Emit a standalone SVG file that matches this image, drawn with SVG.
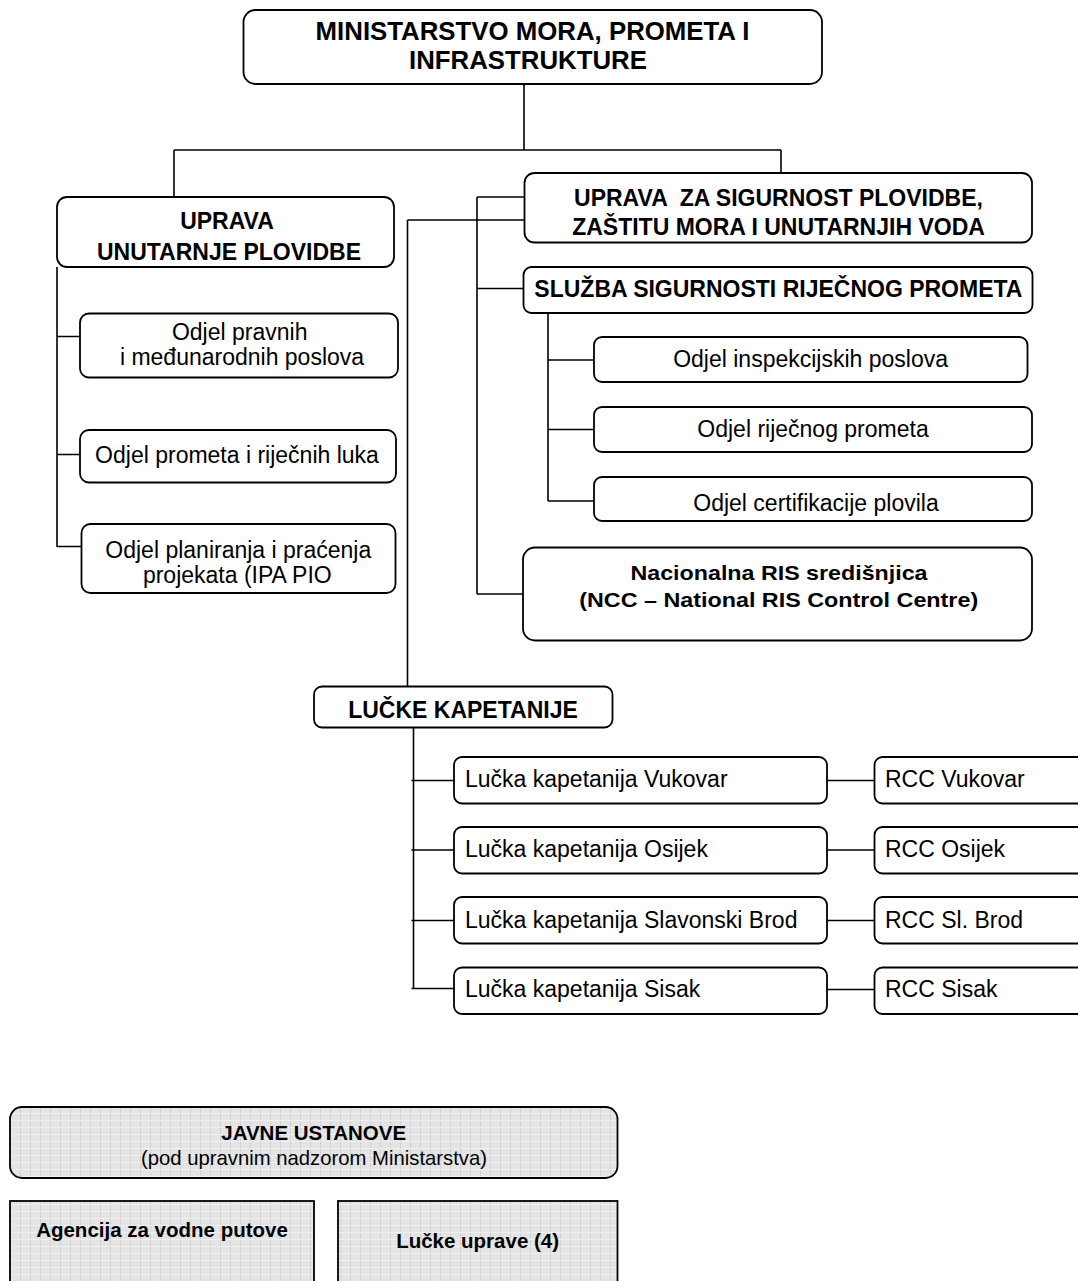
<svg xmlns="http://www.w3.org/2000/svg" width="1078" height="1281" viewBox="0 0 1078 1281">
<style>
.box{fill:#ffffff;stroke:#000000;stroke-width:1.8}
.gbox{fill:url(#grid);stroke:#000000;stroke-width:1.8}
.ln{fill:none;stroke:#000000;stroke-width:1.6}
text{font-family:"Liberation Sans",Arial,sans-serif;fill:#000000}
.b{font-weight:bold;font-size:23px;text-anchor:middle}
.r{font-size:23px;text-anchor:middle}
.rl{font-size:23px;text-anchor:start}
.t{font-weight:bold;font-size:25.8px;text-anchor:middle}
.sb{font-weight:bold;font-size:20.5px;text-anchor:middle}
.sr{font-size:20.3px;text-anchor:middle}
</style>
<defs>
<pattern id="grid" patternUnits="userSpaceOnUse" width="10" height="7">
<rect x="0" y="0" width="10" height="7" fill="#e4e4e4"/>
<rect x="0" y="0" width="1" height="7" fill="#d2d2d2"/>
<rect x="0" y="0" width="10" height="1" fill="#efefef"/>
</pattern>
</defs>
<rect x="0" y="0" width="1078" height="1281" fill="#ffffff"/>

<g id="connectors">
<path class="ln" d="M524 84 V150 M174 150 H781 M174 150 V197 M781 150 V173"/>
<path class="ln" d="M57 267 V547 M57 336.5 H80 M57 454.5 H80 M57 546.5 H81.5"/>
<path class="ln" d="M477 197 V594 M477 197 H524.5 M477 288.5 H523.5 M477 594 H523"/>
<path class="ln" d="M407.5 220 V686.5 M407.5 220 H524.5"/>
<path class="ln" d="M548 313 V501 M548 360 H594 M548 429.5 H594 M548 501 H594"/>
<path class="ln" d="M413.5 727 V988.5 M411.5 780.5 H454 M411.5 850 H454 M411.5 920.5 H454 M411.5 988.5 H454"/>
<path class="ln" d="M827 780.5 H874.5 M827 850 H874.5 M827 920.5 H874.5 M827 989.5 H874.5"/>
</g>

<g id="ministarstvo">
<rect class="box" x="243.5" y="10" width="578.5" height="74" rx="12"/>
<text class="t" x="532.5" y="39.5">MINISTARSTVO MORA, PROMETA I</text>
<text class="t" x="528" y="69">INFRASTRUKTURE</text>
</g>

<g id="uprava-unutarnje">
<rect class="box" x="57" y="197" width="337" height="70" rx="10"/>
<text class="b" x="227" y="228.5">UPRAVA</text>
<text class="b" x="229" y="260">UNUTARNJE PLOVIDBE</text>
</g>

<g id="odjel-pravnih">
<rect class="box" x="80" y="313.5" width="318" height="64" rx="9"/>
<text class="r" x="239.7" y="339.5">Odjel pravnih</text>
<text class="r" x="242" y="365">i međunarodnih poslova</text>
</g>

<g id="odjel-prometa-luka">
<rect class="box" x="80" y="430" width="316" height="52.5" rx="9"/>
<text class="r" x="237" y="462.7">Odjel prometa i riječnih luka</text>
</g>

<g id="odjel-planiranja">
<rect class="box" x="81.5" y="524" width="314" height="69" rx="9"/>
<text class="r" x="238.3" y="558.3">Odjel planiranja i praćenja</text>
<text class="r" x="237.3" y="583.3">projekata (IPA PIO</text>
</g>

<g id="uprava-sigurnost">
<rect class="box" x="524.5" y="173" width="507.5" height="69.5" rx="10"/>
<text class="b" x="778.5" y="206" xml:space="preserve">UPRAVA  ZA SIGURNOST PLOVIDBE,</text>
<text class="b" x="778.5" y="235">ZAŠTITU MORA I UNUTARNJIH VODA</text>
</g>

<g id="sluzba">
<rect class="box" x="523.5" y="267" width="509" height="46" rx="8"/>
<text class="b" x="778.4" y="296.5">SLUŽBA SIGURNOSTI RIJEČNOG PROMETA</text>
</g>

<g id="odjel-inspekcijskih">
<rect class="box" x="594" y="337" width="433.5" height="45" rx="8"/>
<text class="r" x="810.6" y="367">Odjel inspekcijskih poslova</text>
</g>

<g id="odjel-rijecnog">
<rect class="box" x="594" y="407" width="438" height="45" rx="8"/>
<text class="r" x="813" y="437">Odjel riječnog prometa</text>
</g>

<g id="odjel-certifikacije">
<rect class="box" x="594" y="477" width="438" height="44" rx="8"/>
<text class="r" x="816" y="510.5">Odjel certifikacije plovila</text>
</g>

<g id="ncc">
<rect class="box" x="523" y="547.5" width="509" height="93" rx="12"/>
<text class="b" x="779" y="579.5" style="font-size:21px" textLength="297" lengthAdjust="spacingAndGlyphs">Nacionalna RIS središnjica</text>
<text class="b" x="778.7" y="606.5" style="font-size:21px" textLength="399" lengthAdjust="spacingAndGlyphs">(NCC – National RIS Control Centre)</text>
</g>

<g id="lucke-kapetanije">
<rect class="box" x="314" y="686.5" width="298.5" height="41" rx="8"/>
<text class="b" x="463" y="717.5">LUČKE KAPETANIJE</text>
</g>

<g id="lk-vukovar">
<rect class="box" x="454" y="757" width="373" height="46.5" rx="8"/>
<text class="rl" x="465" y="786.7">Lučka kapetanija Vukovar</text>
</g>
<g id="lk-osijek">
<rect class="box" x="454" y="827" width="373" height="46.5" rx="8"/>
<text class="rl" x="465" y="857">Lučka kapetanija Osijek</text>
</g>
<g id="lk-slbrod">
<rect class="box" x="454" y="897" width="373" height="46.5" rx="8"/>
<text class="rl" x="465" y="927.5">Lučka kapetanija Slavonski Brod</text>
</g>
<g id="lk-sisak">
<rect class="box" x="454" y="967.5" width="373" height="46.5" rx="8"/>
<text class="rl" x="465" y="997">Lučka kapetanija Sisak</text>
</g>

<g id="rcc-vukovar">
<rect class="box" x="874.5" y="757" width="230" height="46.5" rx="8"/>
<text class="rl" x="885" y="786.7">RCC Vukovar</text>
</g>
<g id="rcc-osijek">
<rect class="box" x="874.5" y="827" width="230" height="46.5" rx="8"/>
<text class="rl" x="885" y="857">RCC Osijek</text>
</g>
<g id="rcc-slbrod">
<rect class="box" x="874.5" y="897" width="230" height="46.5" rx="8"/>
<text class="rl" x="885" y="927.5">RCC Sl. Brod</text>
</g>
<g id="rcc-sisak">
<rect class="box" x="874.5" y="967.5" width="230" height="46.5" rx="8"/>
<text class="rl" x="885" y="997">RCC Sisak</text>
</g>

<g id="javne-ustanove">
<rect class="gbox" x="10" y="1107" width="607.5" height="71" rx="12"/>
<text class="sb" x="313.7" y="1139.5">JAVNE USTANOVE</text>
<text class="sr" x="314" y="1165">(pod upravnim nadzorom Ministarstva)</text>
</g>

<g id="agencija">
<rect class="gbox" x="10" y="1201" width="304" height="100"/>
<text class="sb" x="162" y="1236.7">Agencija za vodne putove</text>
</g>

<g id="lucke-uprave">
<rect class="gbox" x="338" y="1201" width="279.5" height="100"/>
<text class="sb" x="477.6" y="1248.3">Lučke uprave (4)</text>
</g>
</svg>
